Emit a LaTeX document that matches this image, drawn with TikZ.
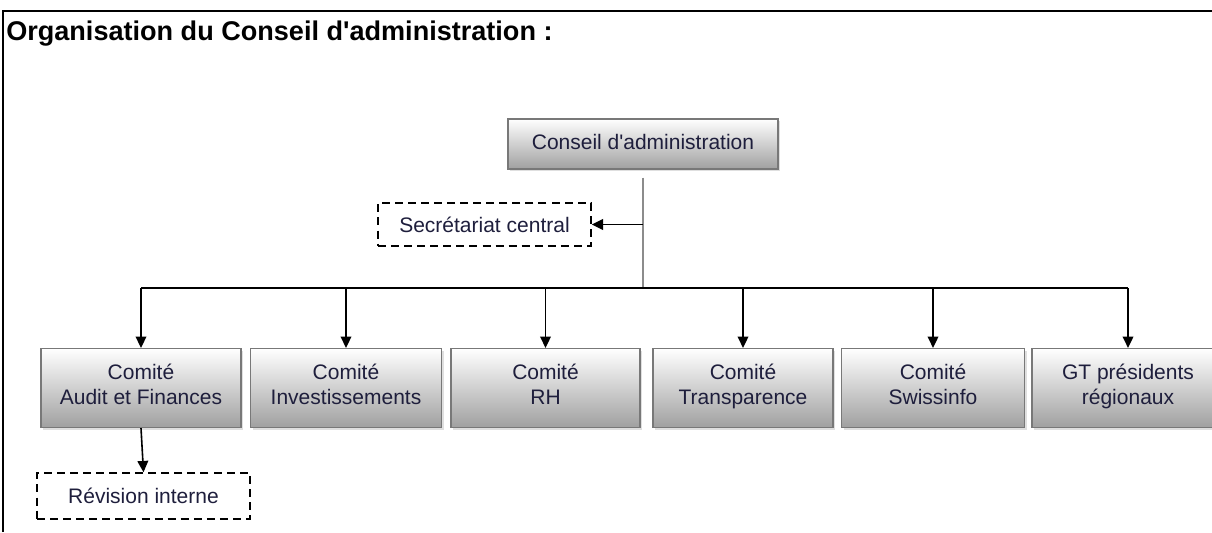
\documentclass[tikz,border=0pt]{standalone}
\usepackage{fontspec}
\setmainfont{Liberation Sans}[Ligatures=TeXOff]
\usepackage{tikz}
\usetikzlibrary{arrows.meta, shadows, positioning}
\definecolor{txt}{RGB}{30,30,60}
\definecolor{boxbot}{RGB}{160,160,160}
\definecolor{boxline}{RGB}{120,120,120}
\definecolor{trunk}{RGB}{140,140,140}
\tikzset{>={Triangle[width=8pt,length=8.5pt]},
	comite/.style={draw=boxline, line width=0.9pt, top color=white, bottom color=boxbot,
		drop shadow={shadow xshift=1.8pt, shadow yshift=-1.8pt, opacity=0.25},
		text=txt, align=center, inner sep=0pt, font=\fontsize{15.75}{19.3}\selectfont,
		execute at begin node=\strut, execute at end node=\strut},
	dashbox/.style={draw, line width=1.1pt, dash pattern=on 6pt off 3.8pt, text=txt,
		inner sep=0pt, font=\fontsize{15.75}{19.3}\selectfont},
	fleche/.style={->, line width=1.2pt}}

\begin{document}
\begin{tikzpicture}[x=0.75pt, y=-0.75pt]
	\useasboundingbox (0,0) rectangle (1212,532);
	% cadre
	\draw[line width=1.5pt] (3,532)--(3,10.5)--(1212,10.5);
	\node[anchor=base west, inner sep=0pt, font=\bfseries\fontsize{20.3}{24}\selectfont] (titre) at (6,40) {Organisation du Conseil d'administration :};
	% boites
	\node[comite, minimum width=202.5pt, minimum height=37.5pt] (ca) at (643,144) {Conseil d'administration};
	\node[dashbox, minimum width=159.75pt, minimum height=32.25pt] (sc) at (484.5,224.5) {Secrétariat central};
	\node[comite, minimum width=150pt, minimum height=59.25pt] (b1) at (141,388) {Comité\\Audit et Finances};
	\node[comite, minimum width=143.25pt, minimum height=59.25pt] (b2) at (346,388) {Comité\\Investissements};
	\node[comite, minimum width=141.75pt, minimum height=59.25pt] (b3) at (545.5,388) {Comité\\RH};
	\node[comite, minimum width=135pt, minimum height=59.25pt] (b4) at (743,388) {Comité\\Transparence};
	\node[comite, minimum width=137.25pt, minimum height=59.25pt] (b5) at (933,388) {Comité\\Swissinfo};
	\node[comite, minimum width=144pt, minimum height=59.25pt] (b6) at (1128,388) {GT présidents\\régionaux};
	\node[dashbox, minimum width=159.75pt, minimum height=34.5pt] (ri) at (143.5,496) {Révision interne};
	% liaisons
	\coordinate (bus) at (644,288);
	\draw[trunk, line width=1.8pt] ([yshift=-6pt]ca.south) -- (ca.south |- bus);
	\draw[line width=1.2pt] (b1.north |- bus) -- (b6.north |- bus);
	\draw[fleche] (ca.south |- sc.east) -- (sc.east);
	\foreach \b in {b1,b2,b3,b4,b5,b6}
		\draw[fleche] (\b.north |- bus) -- (\b.north);
	\draw[fleche] (b1.south) -- (ri.north);
\end{tikzpicture}
\end{document}
